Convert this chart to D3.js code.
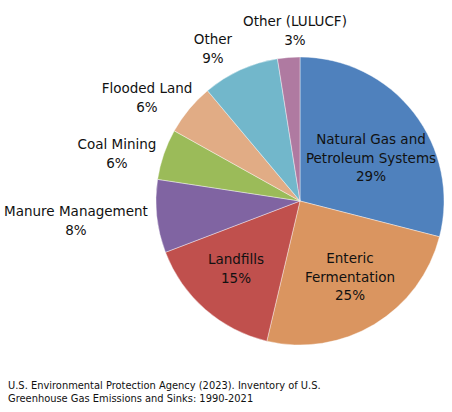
<!DOCTYPE html>
<html lang="en">
    <head>
        <meta charset="UTF-8">
        <style>
            html, body{
                margin: 0;
                padding: 0;
                background: #fff;
                font-family: 'DejaVu Sans', 'Verdana', sans-serif;
            }
            #chart text{
                fill: #111;
            }
            .sliceLabel{
                font-size: 13.5px;
            }
            .source{
                font-size: 9.9px;
            }
        </style>
    </head>
    <body>
        <svg id="chart" width="452" height="412"></svg>

        <script src="https://d3js.org/d3.v7.min.js"></script>
        <script>
            ////////////////////////
            //// DATA           ////
            ////////////////////////
            const categories = ['Natural Gas and Petroleum Systems', 'Enteric Fermentation', 'Landfills',
                                'Manure Management', 'Coal Mining', 'Flooded Land', 'Other', 'Other (LULUCF)']
            const shares     = [29.0, 24.7, 15.5, 8.2, 5.7, 5.8, 8.6, 2.5]
            const pctLabels  = ['29%', '25%', '15%', '8%', '6%', '6%', '9%', '3%']
            const colours    = ['#4F81BD', '#DA9560', '#C0504D', '#8064A2', '#9BBB59', '#E1AC85', '#72B7CB', '#AF7AA1']
            // label lines as they wrap in the original
            const labelLines = [
                ['Natural Gas and', 'Petroleum Systems'],
                ['Enteric', 'Fermentation'],
                ['Landfills'],
                ['Manure Management'],
                ['Coal Mining'],
                ['Flooded Land'],
                ['Other'],
                ['Other (LULUCF)']
            ]
            const sourceLines = ['U.S. Environmental Protection Agency (2023). Inventory of U.S.',
                                 'Greenhouse Gas Emissions and Sinks: 1990-2021']

            ////////////////////////
            //// LAYOUT         ////
            ////////////////////////
            const settings = {
                cx: 300, cy: 201, radius: 144,
                lineHeight: 18.5,
                // where each label block is centred (layout only)
                labelPos: [[371, 158], [350, 277], [236, 269], [76, 221], [117, 154],
                           [147, 98], [213, 49], [295, 31]]
            }

            const svg = d3.select('#chart')
            const pieGroup = svg.append('g').attr('transform', `translate(${settings.cx},${settings.cy})`)

            const pie = d3.pie().sort(null).value(d => d)
            const arc = d3.arc().innerRadius(0).outerRadius(settings.radius)
            const colour = d3.scaleOrdinal().domain(categories).range(colours)

            pieGroup.selectAll('path')
                .data(pie(shares))
                .join('path')
                    .attr('d', arc)
                    .attr('fill', (d, i) => colour(categories[i]))
                    .attr('stroke', '#fff')
                    .attr('stroke-width', 0.4)

            // labels: name lines + percent
            const labels = svg.append('g').selectAll('text')
                .data(categories)
                .join('text')
                    .attr('class', 'sliceLabel')
                    .attr('text-anchor', 'middle')

            labels.each(function(d, i){
                const lines = labelLines[i].concat(pctLabels[i])
                const [x, y] = settings.labelPos[i]
                const top = y - (lines.length - 1) * settings.lineHeight / 2
                d3.select(this).selectAll('tspan')
                    .data(lines)
                    .join('tspan')
                        .attr('x', x)
                        .attr('y', (l, j) => top + j * settings.lineHeight)
                        .attr('dy', '0.35em')
                        .text(l => l)
            })

            svg.append('g').selectAll('text')
                .data(sourceLines)
                .join('text')
                    .attr('class', 'source')
                    .attr('x', 8)
                    .attr('y', (d, i) => 389 + i * 13)
                    .text(d => d)
        </script>
    </body>
</html>
